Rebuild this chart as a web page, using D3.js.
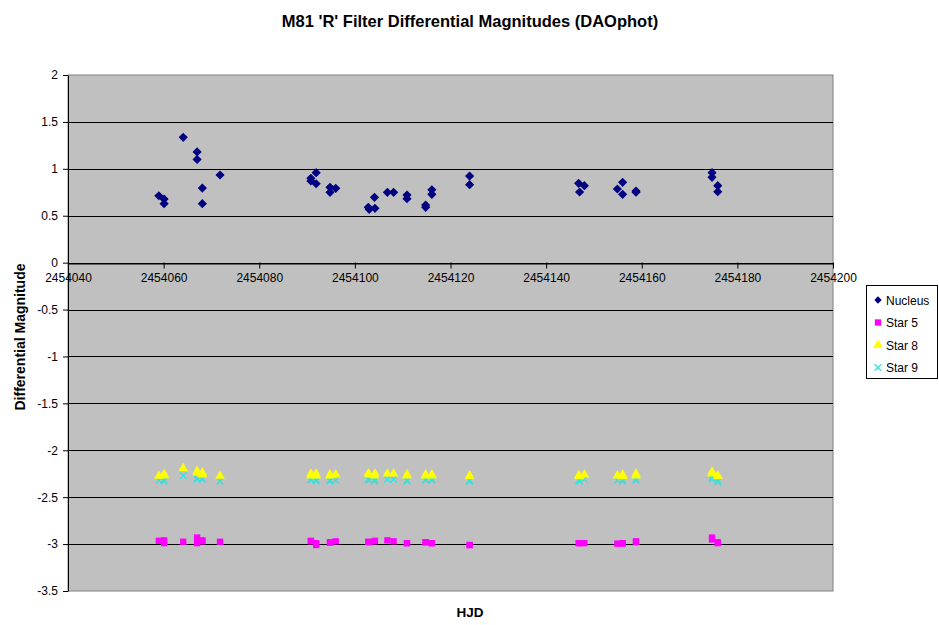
<!DOCTYPE html>
<html><head><meta charset="utf-8">
<script src="https://cdn.jsdelivr.net/npm/d3@7"></script>
<style>body{margin:0;background:#fff;} svg{display:block;font-family:Arial,"Liberation Sans",sans-serif;}</style>
</head><body>
<svg id="c" width="939" height="625"></svg>
<script>
const hjd = [2454059.0,2454060.1,2454060.1,2454064.1,2454067.0,2454067.0,2454068.1,2454068.1,2454071.8,
  2454090.8,2454090.8,2454091.9,2454091.9,2454094.8,2454094.8,2454096.0,
  2454102.8,2454103.0,2454104.2,2454104.1,2454106.8,2454108.1,2454110.9,2454110.9,2454114.8,2454114.8,2454116.1,2454116.1,2454124.0,2454124.0,
  2454146.8,2454148.0,2454147.0,2454154.9,2454156.0,2454156.0,2454158.8,2454158.8,2454174.7,2454174.7,2454175.9,2454175.9];
const nucleus = [0.713,0.678,0.628,1.336,1.18,1.10,0.795,0.628,0.934,
  0.899,0.87,0.959,0.841,0.803,0.749,0.792,
  0.59,0.568,0.579,0.696,0.749,0.749,0.72,0.681,0.614,0.59,0.777,0.728,0.923,0.831,
  0.845,0.82,0.753,0.785,0.856,0.728,0.763,0.75,0.959,0.909,0.82,0.756];
const star5 = [-2.965,-2.96,-2.99,-2.975,-2.93,-2.99,-2.96,-2.97,-2.975,
  -2.965,-2.97,-3.01,-2.99,-2.985,-2.98,-2.97,
  -2.975,-2.98,-2.965,-2.97,-2.96,-2.97,-2.99,-2.99,-2.98,-2.98,-2.99,-2.99,-3.01,-3.01,
  -2.99,-2.99,-2.99,-2.995,-2.995,-2.99,-2.97,-2.98,-2.93,-2.95,-2.99,-2.98];
const star8 = [-2.275,-2.253,-2.27,-2.193,-2.222,-2.24,-2.24,-2.26,-2.275,
  -2.25,-2.27,-2.25,-2.27,-2.26,-2.27,-2.26,
  -2.25,-2.26,-2.25,-2.27,-2.25,-2.25,-2.26,-2.27,-2.26,-2.27,-2.26,-2.27,-2.27,-2.28,
  -2.27,-2.26,-2.28,-2.27,-2.26,-2.28,-2.25,-2.27,-2.23,-2.25,-2.27,-2.28];
const star9 = [-2.32,-2.31,-2.33,-2.27,-2.30,-2.31,-2.30,-2.31,-2.33,
  -2.31,-2.32,-2.31,-2.33,-2.32,-2.33,-2.32,
  -2.31,-2.32,-2.31,-2.33,-2.31,-2.31,-2.32,-2.33,-2.31,-2.32,-2.31,-2.32,-2.32,-2.33,
  -2.32,-2.31,-2.33,-2.32,-2.31,-2.33,-2.31,-2.32,-2.29,-2.31,-2.32,-2.34];
const seriesNames = ["Nucleus","Star 5","Star 8","Star 9"];
const seriesColors = ["#000080","#ff00ff","#ffff00","#33e0e0"];
const xTicks = [2454040,2454060,2454080,2454100,2454120,2454140,2454160,2454180,2454200];
const yTicks = [2,1.5,1,0.5,0,-0.5,-1,-1.5,-2,-2.5,-3,-3.5];

const svg = d3.select("#c");
const L=68,R=833,T=75,B=591;
const x = d3.scaleLinear().domain([2454040,2454200]).range([L,R]);
const y = d3.scaleLinear().domain([-3.5,2]).range([B,T]);

svg.append("rect").attr("x",L).attr("y",T).attr("width",R-L).attr("height",B-T)
  .attr("fill","#c0c0c0").attr("stroke","#808080").attr("stroke-width",1);
svg.append("g").selectAll("line").data(yTicks.filter(v=>v!==-3.5&&v!==2)).join("line")
  .attr("x1",L).attr("x2",R).attr("y1",d=>Math.round(y(d))+0.5).attr("y2",d=>Math.round(y(d))+0.5)
  .attr("stroke","#000").attr("stroke-width",1);

const ya = svg.append("g").attr("transform",`translate(${L},0)`)
  .call(d3.axisLeft(y).tickValues(yTicks).tickSize(5).tickSizeOuter(0).tickFormat(d=>d));
ya.select(".domain").attr("stroke","#000");
ya.selectAll("text").attr("font-size",12).attr("fill","#000").attr("font-family","Arial, 'Liberation Sans', sans-serif").attr("dx",-2);

const xa = svg.append("g").attr("transform",`translate(0,${Math.round(y(0))+0.5})`)
  .call(d3.axisBottom(x).tickValues(xTicks).tickSize(5).tickSizeOuter(0).tickFormat(d3.format("d")));
xa.select(".domain").attr("stroke","#000");
xa.selectAll("text").attr("font-size",12).attr("fill","#000").attr("font-family","Arial, 'Liberation Sans', sans-serif").attr("dy","0.9em");
xa.selectAll(".tick line").attr("y1",-1).attr("y2",5);

const diamond = "M0,-4.6L4.6,0L0,4.6L-4.6,0Z";
function shape(i){
  if(i===0) return diamond;
  const sym = [null, d3.symbolSquare, d3.symbolTriangle, d3.symbolX];
  const sizes = [0,40,40,30];
  return d3.symbol().type(sym[i]).size(sizes[i])();
}
const g = svg.append("g");
const data = [nucleus, star5, star8, star9];
[3,2,1,0].forEach(si=>{
  g.append("g").selectAll("path").data(hjd.map((h,i)=>[h,data[si][i]])).join("path")
    .attr("d",shape(si)).attr("transform",d=>`translate(${x(d[0])},${y(d[1])})`)
    .attr("fill",si===3?"none":seriesColors[si])
    .attr("stroke",si===3?seriesColors[si]:"none").attr("stroke-width",1.2);
});

svg.append("text").attr("x",470).attr("y",27).attr("text-anchor","middle")
  .attr("font-size",16.5).attr("font-weight","bold").text("M81 'R' Filter Differential Magnitudes (DAOphot)");
svg.append("text").attr("x",470).attr("y",617).attr("text-anchor","middle")
  .attr("font-size",13.5).attr("font-weight","bold").text("HJD");
svg.append("text").attr("transform","translate(25,337) rotate(-90)").attr("text-anchor","middle")
  .attr("font-size",14).attr("font-weight","bold").text("Differential Magnitude");

const lg = svg.append("g").attr("transform","translate(866,285)");
lg.append("rect").attr("x",0.5).attr("y",0.5).attr("width",71).attr("height",93).attr("fill","#fff").attr("stroke","#000");
seriesNames.forEach((n,i)=>{
  const yy = 15+i*22.5;
  lg.append("path").attr("d",shape(i)).attr("transform",`translate(12,${yy})${i===0?" scale(0.8)":""}`)
    .attr("fill",i===3?"none":seriesColors[i]).attr("stroke",i===3?seriesColors[i]:"none").attr("stroke-width",1.2);
  lg.append("text").attr("x",20).attr("y",yy+4.5).attr("font-size",12).text(n);
});
</script>
</body></html>
